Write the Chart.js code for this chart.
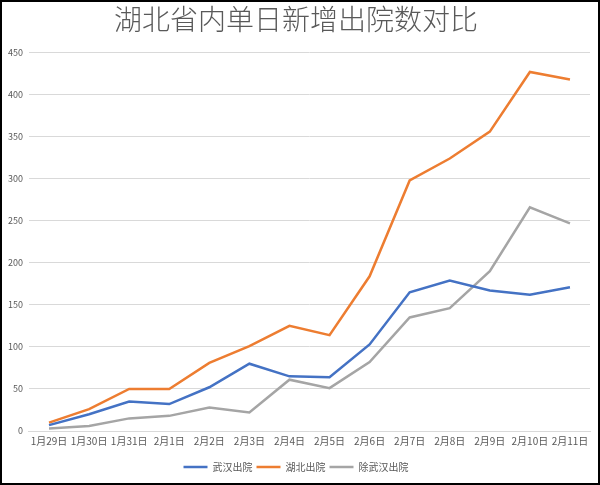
<!DOCTYPE html>
<html>
<head>
<meta charset="utf-8">
<script src="https://cdn.jsdelivr.net/npm/chart.js@4"></script>
<style>
  html, body { margin: 0; padding: 0; background: #fff; }
  #wrap { width: 600px; height: 485px; box-sizing: border-box; border: 2px solid #000; }
  canvas { display: block; }
</style>
</head>
<body>
<div id="wrap"><canvas id="myChart" width="596" height="481"></canvas></div>
<script>
const days = ['1月29日', '1月30日', '1月31日', '2月1日', '2月2日', '2月3日', '2月4日',
    '2月5日', '2月6日', '2月7日', '2月8日', '2月9日', '2月10日', '2月11日'];
const wuhan = [7, 20, 35, 32, 52, 80, 65, 64, 103, 165, 179, 167, 162, 171];
const hubei = [10, 26, 50, 50, 81, 101, 125, 114, 184, 298, 324, 356, 427, 418];
const outsideWuhan = [3, 6, 15, 18, 28, 22, 61, 51, 82, 135, 146, 190, 266, 247];

const fontFamily = '"Noto Sans CJK SC", "Noto Sans", sans-serif';
const textColor = '#595959';

const ctx = document.getElementById('myChart');

new Chart(ctx, {
    type: 'line',
    data: {
        labels: days,
        datasets: [{
            label: '武汉出院',
            data: wuhan,
            borderColor: '#4472C4',
            backgroundColor: '#4472C4',
            borderWidth: 2.5
        }, {
            label: '湖北出院',
            data: hubei,
            borderColor: '#ED7D31',
            backgroundColor: '#ED7D31',
            borderWidth: 2.5
        }, {
            label: '除武汉出院',
            data: outsideWuhan,
            borderColor: '#A5A5A5',
            backgroundColor: '#A5A5A5',
            borderWidth: 2.5
        }]
    },
    options: {
        responsive: false,
        animation: false,
        layout: { padding: { left: 0, right: 8, top: 1, bottom: 1 } },
        elements: {
            line: { tension: 0 },
            point: { radius: 0 }
        },
        plugins: {
            title: {
                display: true,
                text: '湖北省内单日新增出院数对比',
                color: textColor,
                font: { family: fontFamily, size: 28, weight: 300 },
                padding: { top: 0, bottom: 16 }
            },
            legend: {
                position: 'bottom',
                labels: {
                    color: textColor,
                    font: { family: fontFamily, size: 10 },
                    usePointStyle: true,
                    pointStyle: 'line',
                    pointStyleWidth: 24,
                    boxHeight: 3,
                    padding: 4
                }
            },
            tooltip: { enabled: false }
        },
        scales: {
            x: {
                offset: true,
                grid: { display: false, drawTicks: false },
                border: { color: '#D9D9D9' },
                ticks: {
                    color: textColor,
                    font: { family: fontFamily, size: 10 },
                    maxRotation: 0,
                    autoSkip: false,
                    padding: 4
                },
                // leave a gap between the day labels and the legend
                afterFit: (axis) => { axis.height += 7; }
            },
            y: {
                min: 0,
                max: 450,
                grid: { color: '#D9D9D9', drawTicks: false },
                border: { display: false },
                ticks: {
                    stepSize: 50,
                    color: textColor,
                    font: { family: fontFamily, size: 9 },
                    padding: 6
                }
            }
        }
    }
});
</script>
</body>
</html>
